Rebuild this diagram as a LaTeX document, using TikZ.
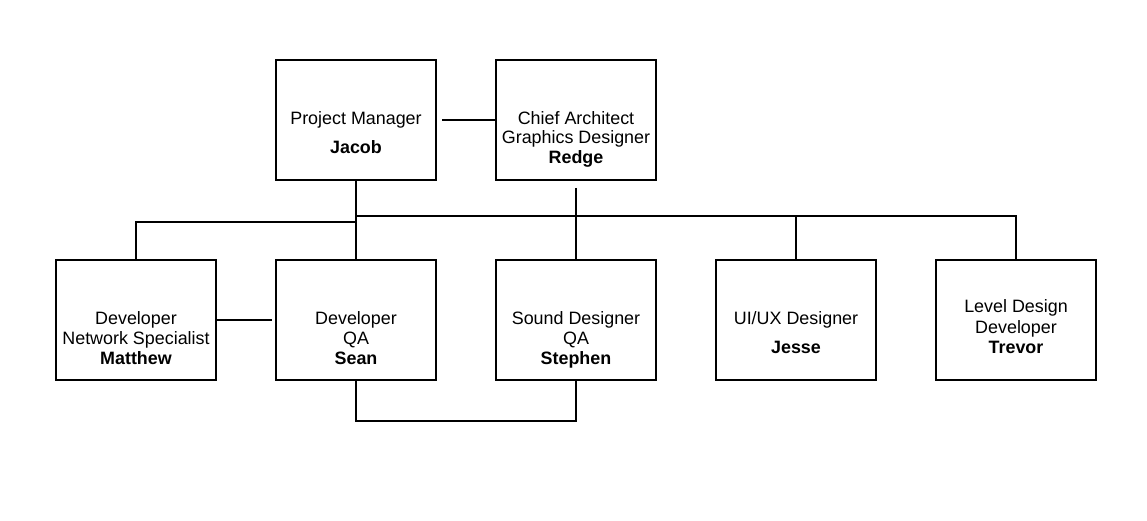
\documentclass[tikz,border=0pt]{standalone}
\usepackage{fontspec}
\setmainfont{Liberation Sans}
\usetikzlibrary{calc}
\begin{document}
\begin{tikzpicture}[x=1pt,y=-1pt,
  box/.style={draw=black,line width=2pt,minimum width=160pt,minimum height=120pt,inner sep=0pt,fill=white},
  lbl/.style={anchor=base,inner sep=0pt,font=\fontsize{17.9pt}{20pt}\selectfont},
  nm/.style={lbl,font=\fontsize{17.9pt}{20pt}\selectfont\bfseries},
  conn/.style={draw=black,line width=2pt}]
\useasboundingbox[fill=white] (0,0) rectangle (1147,521);
% boxes
\node[box] (pm) at (356,120) {};
\node[box] (ca) at (576,120) {};
\node[box] (matt) at (136,320) {};
\node[box] (sean) at (356,320) {};
\node[box] (steph) at (576,320) {};
\node[box] (jesse) at (796,320) {};
\node[box] (trev) at (1016,320) {};
% labels
\node[lbl] (pm1) at ($(pm)+(0,4.5)$) {Project Manager};
\node[nm]  (pm2) at ($(pm)+(0,33.5)$) {Jacob};
\node[lbl] (ca1) at ($(ca)+(0,4.5)$) {Chief Architect};
\node[lbl] (ca2) at ($(ca)+(0,24)$) {Graphics Designer};
\node[nm]  (ca3) at ($(ca)+(0,44)$) {Redge};
\node[lbl] (ma1) at ($(matt)+(0,4.5)$) {Developer};
\node[lbl] (ma2) at ($(matt)+(0,24)$) {Network Specialist};
\node[nm]  (ma3) at ($(matt)+(0,44)$) {Matthew};
\node[lbl] (se1) at ($(sean)+(0,4.5)$) {Developer};
\node[lbl] (se2) at ($(sean)+(0,24)$) {QA};
\node[nm]  (se3) at ($(sean)+(0,44)$) {Sean};
\node[lbl] (st1) at ($(steph)+(0,4.5)$) {Sound Designer};
\node[lbl] (st2) at ($(steph)+(0,24)$) {QA};
\node[nm]  (st3) at ($(steph)+(0,44)$) {Stephen};
\node[lbl] (je1) at ($(jesse)+(0,4.5)$) {UI/UX Designer};
\node[nm]  (je2) at ($(jesse)+(0,33.5)$) {Jesse};
\node[lbl] (tr1) at ($(trev)+(0,-8)$) {Level Design};
\node[lbl] (tr2) at ($(trev)+(0,13.5)$) {Developer};
\node[nm]  (tr3) at ($(trev)+(0,33)$) {Trevor};
% junction coordinates
\coordinate (j1) at (356,222);
\coordinate (j2) at (356,216);
% connectors
\draw[conn] ([xshift=5pt]pm.east) -- (ca.west);
\draw[conn] (pm.south) -- (sean.north);
\draw[conn] (matt.north) |- (j1);
\draw[conn] ([yshift=-7pt]ca.south) -- (steph.north);
\draw[conn] (j2) -| (trev.north);
\draw[conn] (jesse.north) -- (jesse.north |- j2);
\draw[conn] (matt.east) -- ([xshift=-3pt]sean.west);
\draw[conn] (sean.south) -- ++(0,40) -| (steph.south);
\end{tikzpicture}
\end{document}
